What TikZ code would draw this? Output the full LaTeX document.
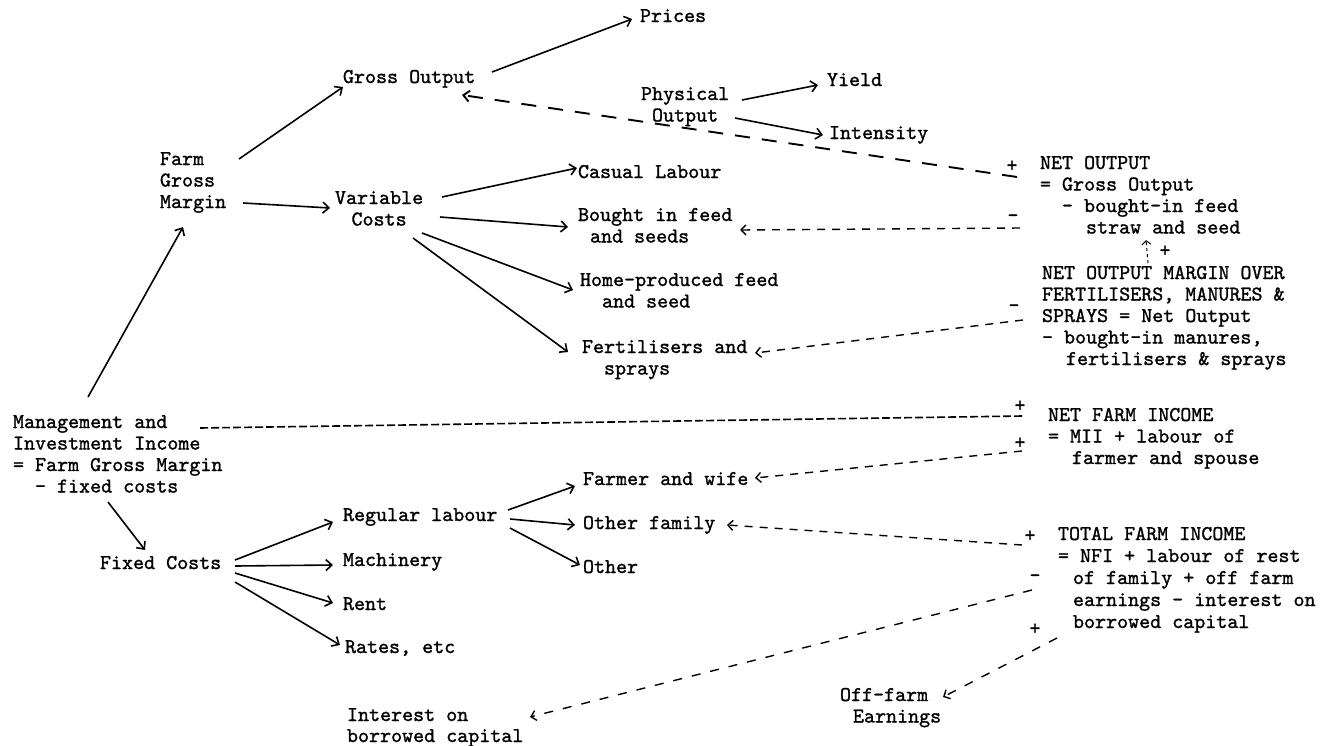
\documentclass[tikz,border=0pt]{standalone}
\usepackage{fontspec}
\newfontfamily\tw{lmmono10-regular.otf}[FakeBold=1.2]
\usetikzlibrary{arrows.meta}
\begin{document}
\begin{tikzpicture}[x=1pt,y=-1pt,
  txt/.style={font=\fontsize{21}{21.5}\selectfont\tw, inner sep=0pt, outer sep=0pt, anchor=north west, align=left},
  ctxt/.style={txt, align=center},
  sgn/.style={font=\fontsize{21}{21.5}\selectfont\tw, inner sep=0pt},
  arr/.style={line width=1.6pt, -{Straight Barb[length=6pt,width=11pt]}},
  darr/.style={line width=1.4pt, dash pattern=on 8pt off 7pt, -{Straight Barb[length=5pt,width=10pt]}},
  ldarr/.style={line width=1.9pt, dash pattern=on 15pt off 12pt, -{Straight Barb[length=6pt,width=11pt]}},
  wdarr/.style={line width=1.4pt, dash pattern=on 9pt off 10pt, -{Straight Barb[length=5pt,width=10pt]}},
  tdline/.style={line width=1.6pt, dash pattern=on 8pt off 3pt},
  vdarr/.style={line width=1pt, dash pattern=on 3pt off 3pt, -{Straight Barb[length=4pt,width=9pt]}}
]
\useasboundingbox (0,0) rectangle (1328,745);
\fill[white] (0,0) rectangle (1328,745);

% ---- text nodes (north west at first baseline - 15.05) ----
\node[txt] (prices) at (640,6.95) {\strut Prices};
\node[txt] (go) at (343,67.95) {\strut Gross Output};
\node[ctxt] (phys) at (641,84.95) {\strut Physical\\Output};
\node[txt] (yield) at (827,70.95) {\strut Yield};
\node[txt] (intens) at (829,123.95) {\strut Intensity};
\node[txt] (fgm) at (160,149.95) {\strut Farm\\Gross\\Margin};
\node[ctxt] (vc) at (335,188.95) {\strut Variable\\Costs};
\node[txt] (casual) at (578,162.95) {\strut Casual Labour};
\node[txt] (bought) at (578,205.95) {\strut Bought in feed\\\hspace*{12pt}and seeds};
\node[txt] (home) at (580,270.95) {\strut Home-produced feed\\\hspace*{22pt}and seed};
\node[txt] (fert) at (582,337.95) {\strut Fertilisers and\\\hspace*{22pt}sprays};
\node[txt] (netout) at (1040,153.95) {\strut NET OUTPUT\\= Gross Output\\\hspace*{22pt}- bought-in feed\\\hspace*{46pt}straw and seed};
\node[txt] (nom) at (1042,263.95) {\strut NET OUTPUT MARGIN OVER\\FERTILISERS, MANURES \&\\SPRAYS = Net Output\\- bought-in manures,\\\hspace*{24pt}fertilisers \& sprays};
\node[txt] (mii) at (13,412.95) {\strut Management and\\Investment Income\\= Farm Gross Margin\\\hspace*{22pt}- fixed costs};
\node[txt] (nfi) at (1048,405.95) {\strut NET FARM INCOME\\= MII + labour of\\\hspace*{24pt}farmer and spouse};
\node[txt] (fc) at (100,553.95) {\strut Fixed Costs};
\node[txt] (reg) at (343,505.95) {\strut Regular labour};
\node[txt] (mach) at (343,550.95) {\strut Machinery};
\node[txt] (rent) at (343,594.95) {\strut Rent};
\node[txt] (rates) at (345,637.95) {\strut Rates, etc};
\node[txt] (farmer) at (583,469.95) {\strut Farmer and wife};
\node[txt] (ofam) at (583,513.95) {\strut Other family};
\node[txt] (other) at (583,557.95) {\strut Other};
\node[txt, font=\fontsize{21}{22}\selectfont\tw] (tfi) at (1058,524.6) {\strut TOTAL FARM INCOME\\= NFI + labour of rest\\\hspace*{15pt}of family + off farm\\\hspace*{15pt}earnings - interest on\\\hspace*{15pt}borrowed capital};
\node[txt] (offf) at (840,685.95) {\strut Off-farm\\\hspace*{13pt}Earnings};
\node[txt, font=\fontsize{21}{21}\selectfont\tw] (inter) at (347,706.3) {\strut Interest on\\borrowed capital};

% ---- signs ----
\node[sgn] (s1) at (1012,166) {+};
\node[sgn] (s2) at (1013,218) {-};
\node[sgn] (s3) at (1165,251) {+};
\node[sgn] (s4) at (1014,308) {-};
\node[sgn] (s5) at (1020,406) {+};
\node[sgn] (s6) at (1020,443) {+};
\node[sgn] (s7) at (1030,536) {+};
\node[sgn] (s8) at (1035,578) {-};
\node[sgn] (s9) at (1035,629) {+};

% ---- connector end points ----
\coordinate (fgm-a) at (239,159);   \coordinate (go-a) at (343,87);
\coordinate (go-b) at (492,72);     \coordinate (prices-b) at (632,19);
\coordinate (phys-c) at (742,100);  \coordinate (yield-c) at (818,85);
\coordinate (phys-d) at (735,118);  \coordinate (intens-d) at (823,135);
\coordinate (fgm-e) at (243,203);   \coordinate (vc-e) at (330,208);
\coordinate (vc-f) at (442,197);    \coordinate (casual-f) at (577,168);
\coordinate (vc-g) at (440,217);    \coordinate (bought-g) at (568,227);
\coordinate (vc-h) at (422,233);    \coordinate (home-h) at (573,290);
\coordinate (vc-i) at (413,238);    \coordinate (fert-i) at (568,352);
\coordinate (mii-j) at (88,397);    \coordinate (fgm-j) at (183,227);
\coordinate (mii-k) at (108,502);   \coordinate (fc-k) at (145,550);
\coordinate (fc-l) at (235,560);    \coordinate (reg-l) at (333,522);
\coordinate (fc-m) at (235,566);    \coordinate (mach-m) at (333,565);
\coordinate (fc-n) at (235,573);    \coordinate (rent-n) at (333,603);
\coordinate (fc-o) at (235,582);    \coordinate (rates-o) at (340,645);
\coordinate (reg-p) at (508,510);   \coordinate (farmer-p) at (575,486);
\coordinate (reg-q) at (510,519);   \coordinate (ofam-q) at (575,525);
\coordinate (reg-r) at (510,528);   \coordinate (other-r) at (580,565);

\coordinate (netout-1) at (1017,177); \coordinate (go-1) at (462,95);
\coordinate (netout-2) at (1020,228); \coordinate (bought-2) at (740,230);
\coordinate (nom-3) at (1148,263);    \coordinate (netout-3) at (1146,240);
\coordinate (nom-4) at (1023,320);    \coordinate (fert-4) at (755,353);
\coordinate (nfi-5) at (1022,416);    \coordinate (mii-5) at (200,428);
\coordinate (nfi-6) at (1022,451);    \coordinate (farmer-6) at (755,478);
\coordinate (tfi-7) at (1022,545);    \coordinate (ofam-7) at (727,525);
\coordinate (tfi-8) at (1032,590);    \coordinate (inter-8) at (530,717);
\coordinate (tfi-9) at (1057,638);    \coordinate (offf-9) at (943,697);

% ---- solid arrows ----
\draw[arr] (fgm-a) -- (go-a);
\draw[arr] (go-b) -- (prices-b);
\draw[arr] (phys-c) -- (yield-c);
\draw[arr] (phys-d) -- (intens-d);
\draw[arr] (fgm-e) -- (vc-e);
\draw[arr] (vc-f) -- (casual-f);
\draw[arr] (vc-g) -- (bought-g);
\draw[arr] (vc-h) -- (home-h);
\draw[arr] (vc-i) -- (fert-i);
\draw[arr] (mii-j) -- (fgm-j);
\draw[arr] (mii-k) -- (fc-k);
\draw[arr] (fc-l) -- (reg-l);
\draw[arr] (fc-m) -- (mach-m);
\draw[arr] (fc-n) -- (rent-n);
\draw[arr] (fc-o) -- (rates-o);
\draw[arr] (reg-p) -- (farmer-p);
\draw[arr] (reg-q) -- (ofam-q);
\draw[arr] (reg-r) -- (other-r);

% ---- dashed connectors ----
\draw[ldarr] (netout-1) -- (go-1);
\draw[darr] (netout-2) -- (bought-2);
\draw[vdarr] (nom-3) -- (netout-3);
\draw[darr] (nom-4) -- (fert-4);
\draw[tdline] (nfi-5) -- (mii-5);
\draw[darr] (nfi-6) -- (farmer-6);
\draw[darr] (tfi-7) -- (ofam-7);
\draw[wdarr] (tfi-8) -- (inter-8);
\draw[wdarr] (tfi-9) -- (offf-9);
\end{tikzpicture}
\end{document}
